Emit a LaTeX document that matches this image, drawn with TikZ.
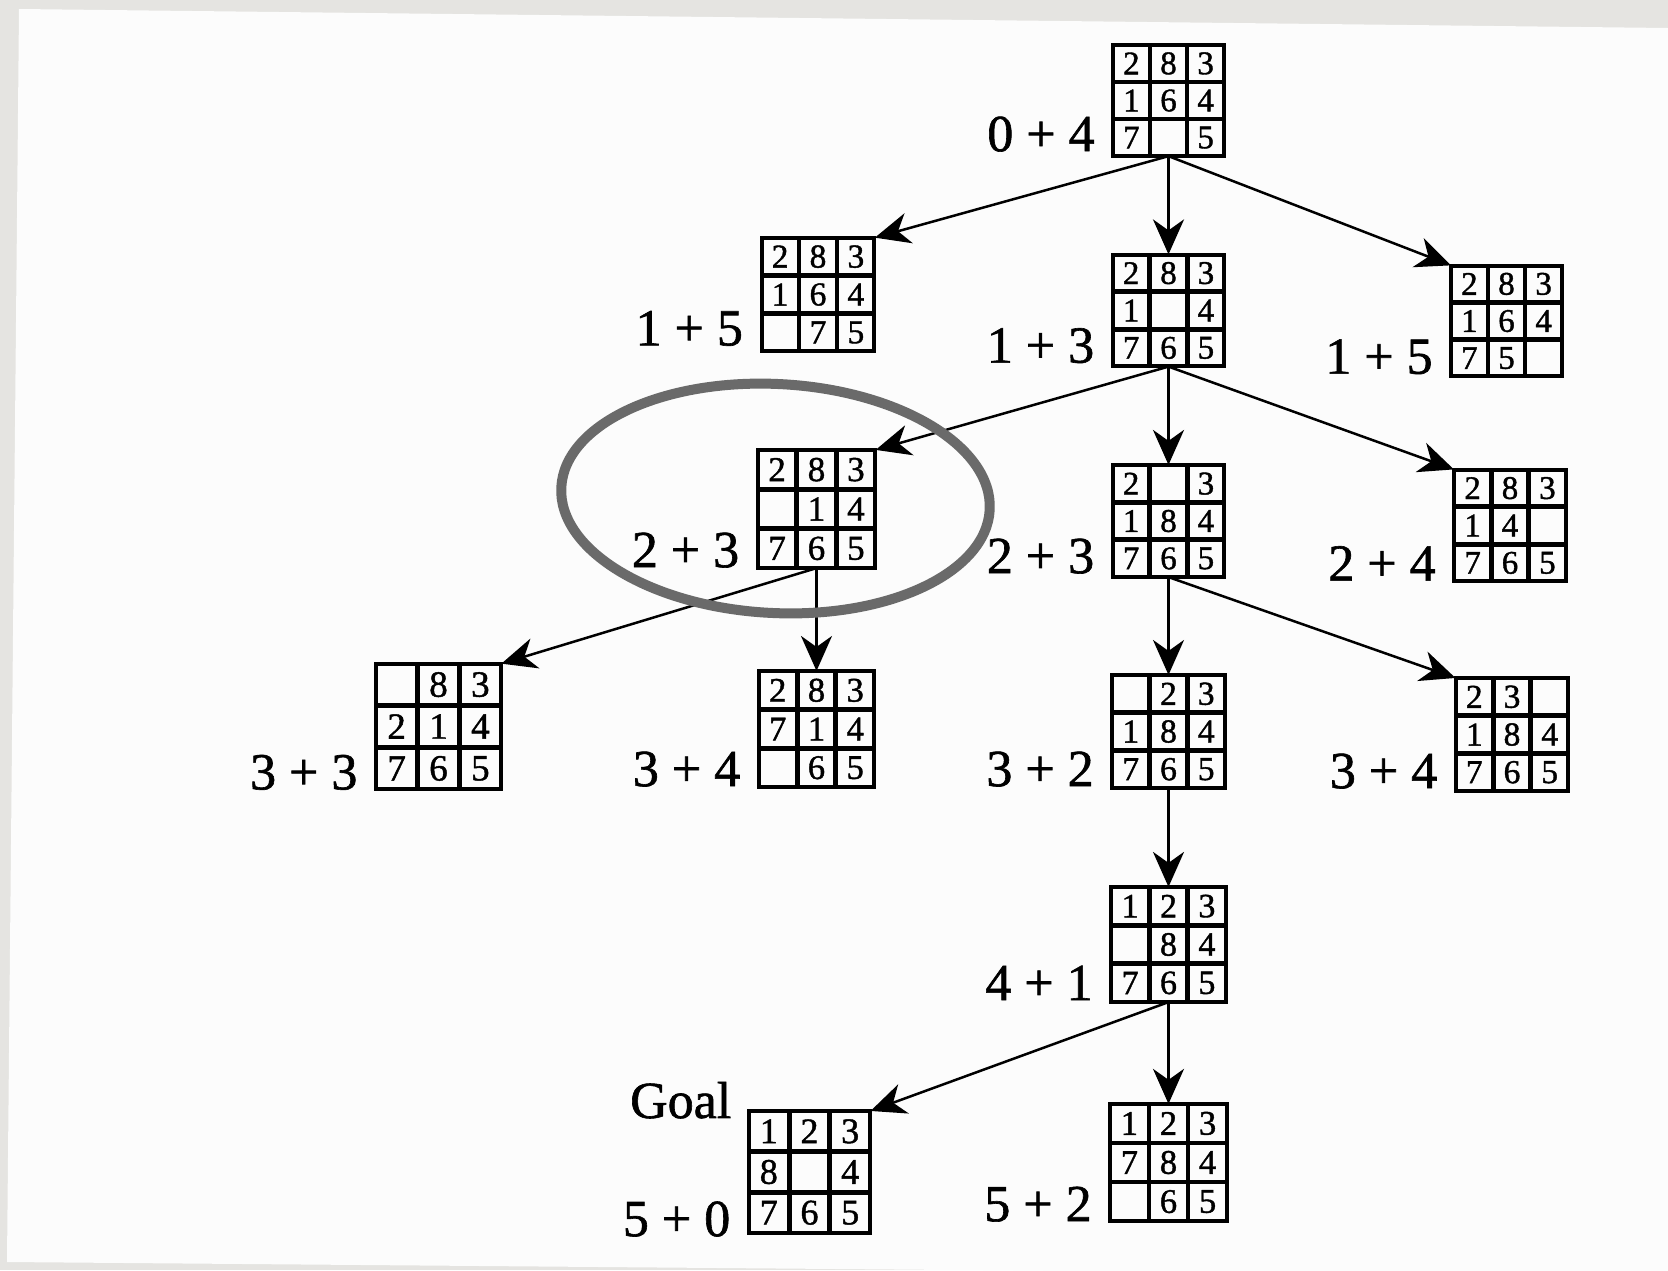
\documentclass[tikz,border=0pt]{standalone}
\usepackage{fontspec}
\setmainfont{Liberation Serif}
\newfontfamily\heavyfont[FakeBold=1.2]{Liberation Serif}
\usetikzlibrary{matrix,arrows.meta,calc}
\definecolor{bggray}{HTML}{E5E4E1}
\definecolor{paper}{HTML}{FCFCFC}
\definecolor{ringgray}{HTML}{6A6A6A}
\tikzset{
  puz/.style 2 args={matrix of nodes, nodes in empty cells, draw, line width=3.2pt,
    inner sep=0pt, outer sep=0pt, column sep=0pt, row sep=0pt,
    nodes={draw, line width=2.4pt, inner sep=0pt, outer sep=0pt, minimum size=#1,
      anchor=center, font=\heavyfont\fontsize{#2}{#2}\selectfont}},
  lbl/.style={font=\heavyfont\fontsize{52}{52}\selectfont, inner sep=0pt, anchor=base east},
  link/.style={line width=2.5pt, -{Stealth[length=35pt, width=31pt, inset=11pt]}},
  ring/.style={draw=ringgray, line width=10pt},
}
\begin{document}
\begin{tikzpicture}[x=1pt, y=-1pt]
\useasboundingbox (0,0) rectangle (1668,1270);
\clip (0,0) rectangle (1668,1270);
\fill[bggray] (0,0) rectangle (1668,1270);
\fill[paper] (19,9) -- (1668,28) -- (1668,1276) -- (7,1262) -- cycle;

% puzzles
\matrix[puz={34.7pt}{33pt}] (p0) at (1168.5,100.5) {2 & 8 & 3\\ 1 & 6 & 4\\ 7 & & 5\\};
\matrix[puz={35.5pt}{33.5pt}] (p1) at (818,294.5) {2 & 8 & 3\\ 1 & 6 & 4\\ & 7 & 5\\};
\matrix[puz={35pt}{33pt}] (p2) at (1168.5,310.5) {2 & 8 & 3\\ 1 & & 4\\ 7 & 6 & 5\\};
\matrix[puz={34.7pt}{33pt}] (p3) at (1506.5,321) {2 & 8 & 3\\ 1 & 6 & 4\\ 7 & 5 & \\};
\matrix[puz={37pt}{35pt}] (p4) at (816.5,509) {2 & 8 & 3\\ & 1 & 4\\ 7 & 6 & 5\\};
\matrix[puz={35pt}{33pt}] (p5) at (1168.5,521) {2 & & 3\\ 1 & 8 & 4\\ 7 & 6 & 5\\};
\matrix[puz={35pt}{33pt}] (p6) at (1510,525.5) {2 & 8 & 3\\ 1 & 4 & \\ 7 & 6 & 5\\};
\matrix[puz={39.5pt}{37pt}] (p7) at (438.5,726.5) { & 8 & 3\\ 2 & 1 & 4\\ 7 & 6 & 5\\};
\matrix[puz={36.3pt}{34.5pt}] (p8) at (816.5,729) {2 & 8 & 3\\ 7 & 1 & 4\\ & 6 & 5\\};
\matrix[puz={35.3pt}{33.5pt}] (p9) at (1168.5,731.5) { & 2 & 3\\ 1 & 8 & 4\\ 7 & 6 & 5\\};
\matrix[puz={35.3pt}{33.5pt}] (p10) at (1512,734.5) {2 & 3 & \\ 1 & 8 & 4\\ 7 & 6 & 5\\};
\matrix[puz={36pt}{34pt}] (p11) at (1168.5,944.5) {1 & 2 & 3\\ & 8 & 4\\ 7 & 6 & 5\\};
\matrix[puz={38.3pt}{36pt}] (p12) at (809.5,1172) {1 & 2 & 3\\ 8 & & 4\\ 7 & 6 & 5\\};
\matrix[puz={36.7pt}{34.5pt}] (p13) at (1168.5,1162.5) {1 & 2 & 3\\ 7 & 8 & 4\\ & 6 & 5\\};

% labels
\node[lbl] (l0) at ([xshift=-18pt,yshift=5pt]p0.south west) {0 + 4};
\node[lbl] (l1) at ([xshift=-18pt,yshift=6pt]p1.south west) {1 + 5};
\node[lbl] (l2) at ([xshift=-18pt,yshift=4pt]p2.south west) {1 + 3};
\node[lbl] (l3) at ([xshift=-18pt,yshift=3pt]p3.south west) {1 + 5};
\node[lbl] (l4) at ([xshift=-18pt,yshift=1pt]p4.south west) {2 + 3};
\node[lbl] (l5) at ([xshift=-18pt,yshift=4pt]p5.south west) {2 + 3};
\node[lbl] (l6) at ([xshift=-18pt,yshift=1pt]p6.south west) {2 + 4};
\node[lbl] (l7) at ([xshift=-18pt,yshift=0pt]p7.south west) {3 + 3};
\node[lbl] (l8) at ([xshift=-18pt,yshift=1pt]p8.south west) {3 + 4};
\node[lbl] (l9) at ([xshift=-18pt,yshift=2pt]p9.south west) {3 + 2};
\node[lbl] (l10) at ([xshift=-18pt,yshift=3pt]p10.south west) {3 + 4};
\node[lbl] (l11) at ([xshift=-18pt,yshift=2pt]p11.south west) {4 + 1};
\node[lbl] (l12) at ([xshift=-18pt,yshift=-3pt]p12.south west) {5 + 0};
\node[lbl] (l13) at ([xshift=-18pt,yshift=0pt]p13.south west) {5 + 2};
\node[lbl] (goal) at ([xshift=-17pt,yshift=-7pt]p12.north west) {Goal};

% connectors
\draw[link] (p0.south) -- (p1.north east);
\draw[link] (p0.south) -- (p2.north);
\draw[link] (p0.south) -- (p3.north west);
\draw[link] (p2.south) -- (p4.north east);
\draw[link] (p2.south) -- (p5.north);
\draw[link] (p2.south) -- (p6.north west);
\draw[link] (p4.south) -- (p7.north east);
\draw[link] (p4.south) -- (p8.north);
\draw[link] (p5.south) -- (p9.north);
\draw[link] (p5.south) -- (p10.north west);
\draw[link] (p9.south) -- (p11.north);
\draw[link] (p11.south) -- (p12.north east);
\draw[link] (p11.south) -- (p13.north);

% highlight ring
\draw[ring, rotate around={-3:(775.5,498.5)}] (775.5,498.5) ellipse [x radius=214.5, y radius=114.5];
\end{tikzpicture}
\end{document}
